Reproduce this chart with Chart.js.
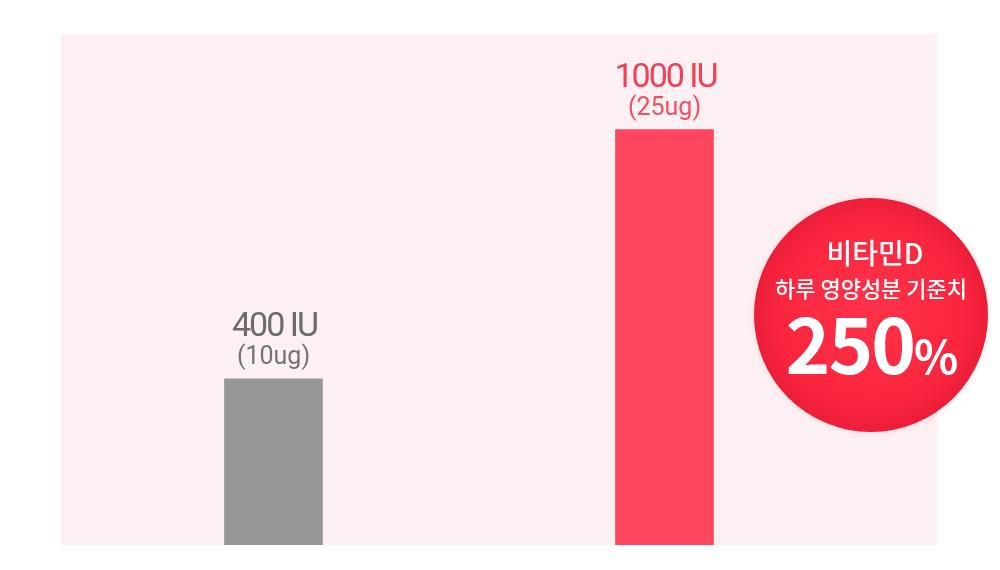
<!DOCTYPE html>
<html lang="ko">
<head>
<meta charset="utf-8">
<script src="https://cdn.jsdelivr.net/npm/chart.js@4.4.1/dist/chart.umd.min.js"></script>
<style>
  html, body { margin: 0; padding: 0; background: #ffffff; }
  #wrap { width: 1000px; height: 570px; position: relative; }
</style>
</head>
<body>
<div id="wrap"><canvas id="chart" width="1000" height="570"></canvas></div>
<script>
// Data
const categories = ['400 IU', '1000 IU'];
const doseIU = [400, 1000];
const doseUg = ['(10ug)', '(25ug)'];
const badgeTitle = '비타민D';
const badgeSub = '하루 영양성분 기준치';
const badgePercent = 250;

// Colors
const barColors = ['#979797', '#fe465e'];
const labelColors = ['#6b6b6b', '#f0405a'];
const subLabelColors = ['#747474', '#f04f66'];
const panelColor = '#fdf0f2';

// Pink panel behind the bars
const panelPlugin = {
  id: 'panel',
  beforeDraw(chart) {
    const { ctx, chartArea } = chart;
    ctx.save();
    ctx.fillStyle = panelColor;
    ctx.fillRect(chartArea.left - 17, chartArea.top - 1, chartArea.right - chartArea.left + 94, chartArea.bottom - chartArea.top + 1);
    ctx.restore();
  },
};

// Value labels above bars
const barLabelPlugin = {
  id: 'barLabels',
  afterDatasetsDraw(chart) {
    const { ctx } = chart;
    const meta = chart.getDatasetMeta(0);
    ctx.save();
    ctx.textAlign = 'center';
    ctx.textBaseline = 'alphabetic';
    meta.data.forEach((bar, i) => {
      ctx.letterSpacing = '-2px';
      ctx.fillStyle = labelColors[i];
      ctx.font = '34px Roboto';
      ctx.fillText(categories[i], bar.x + 1, bar.y - 43);
      ctx.letterSpacing = '0px';
      ctx.fillStyle = subLabelColors[i];
      ctx.font = '25px Roboto';
      ctx.fillText(doseUg[i], bar.x, bar.y - 15);
    });
    ctx.restore();
  },
};

// Red round badge on the right
const badgePlugin = {
  id: 'badge',
  afterDraw(chart) {
    const { ctx } = chart;
    const cx = 871;
    const cy = 315;
    const r = 117;
    ctx.save();
    ctx.shadowColor = 'rgba(200, 20, 40, 0.2)';
    ctx.shadowBlur = 5;
    const grad = ctx.createRadialGradient(cx, cy - 10, 0, cx, cy, r);
    grad.addColorStop(0, '#ff3349');
    grad.addColorStop(0.8, '#fa253e');
    grad.addColorStop(1, '#eb1d38');
    ctx.fillStyle = grad;
    ctx.beginPath();
    ctx.arc(cx, cy, r, 0, Math.PI * 2);
    ctx.fill();
    ctx.shadowBlur = 0;
    ctx.shadowColor = 'transparent';

    ctx.fillStyle = '#ffffff';
    ctx.textAlign = 'center';
    ctx.textBaseline = 'alphabetic';
    ctx.font = '500 28px "Noto Sans CJK KR"';
    ctx.fillText(badgeTitle, cx + 4, 264);
    ctx.font = '500 22px "Noto Sans CJK KR"';
    ctx.fillText(badgeSub, cx, 297);

    // big percent
    const num = String(badgePercent);
    ctx.letterSpacing = '-2px';
    ctx.font = 'bold 76px "Noto Sans CJK KR"';
    const numW = ctx.measureText(num).width;
    ctx.font = 'bold 46px "Noto Sans CJK KR"';
    const pctW = ctx.measureText('%').width;
    const startX = cx - (numW + pctW) / 2;
    ctx.textAlign = 'left';
    ctx.font = 'bold 76px "Noto Sans CJK KR"';
    ctx.fillText(num, startX, 374);
    ctx.font = 'bold 46px "Noto Sans CJK KR"';
    ctx.fillText('%', startX + numW, 374);
    ctx.restore();
  },
};

const ctx = document.getElementById('chart');
// eslint-disable-next-line no-new
new Chart(ctx, {
  type: 'bar',
  data: {
    labels: categories,
    datasets: [
      {
        data: doseIU,
        backgroundColor: barColors,
        borderWidth: 0,
        barThickness: 98,
      },
    ],
  },
  options: {
    responsive: false,
    animation: false,
    layout: {
      padding: { left: 78, right: 140, top: 35, bottom: 25 },
    },
    plugins: {
      legend: { display: false },
      tooltip: { enabled: false },
      title: { display: false },
    },
    scales: {
      x: {
        display: false,
        offset: true,
        grid: { display: false },
      },
      y: {
        display: false,
        min: 0,
        max: 1228,
        grid: { display: false },
      },
    },
  },
  plugins: [panelPlugin, barLabelPlugin, badgePlugin],
});
</script>
</body>
</html>
